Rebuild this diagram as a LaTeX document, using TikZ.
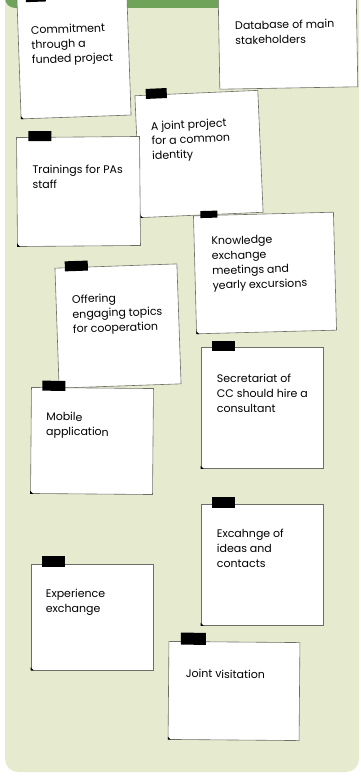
\documentclass[tikz,border=0pt]{standalone}
\usepackage{fontspec}
\setmainfont{Poppins}
\usetikzlibrary{positioning, calc}

\definecolor{panelbg}{HTML}{E6EBCF}
\definecolor{headgreen}{HTML}{6FA35A}
\definecolor{noteedge}{HTML}{6E6E66}

\begin{document}
\begin{tikzpicture}[
    x=1pt, y=-1pt,
    note/.style={rectangle, draw=noteedge, line width=0.6pt, fill=white, inner sep=0pt},
    tape/.style={rectangle, fill=black, minimum width=23pt, minimum height=10pt, inner sep=0pt, anchor=west},
    notetext/.style={align=left, inner sep=0pt, anchor=north west, font=\fontsize{11}{14.8}\selectfont}
]
\useasboundingbox (0,0) rectangle (360,776);
\fill[white] (0,0) rectangle (360,776);
\fill[panelbg, rounded corners=13pt] (5,-30) rectangle (359,772);
\fill[headgreen, rounded corners=10pt] (5,-30) rectangle (352,8);

% row 1
\node[note, minimum width=110pt, minimum height=120pt, rotate=2](n1) at (74, 57) {};
\node[tape, minimum width=20pt, rotate=2](k1) at ([xshift=9pt, yshift=1.5pt]n1.north west) {};
\node[notetext, rotate=2](t1) at ([xshift=14pt, yshift=-27pt]n1.north west) {Commitment\\through a\\funded project};
\fill (n1.south west) -- ([xshift=3pt]n1.south west) -- ([yshift=3pt]n1.south west) -- cycle;

\node[note, minimum width=138pt, minimum height=94pt, rotate=1](n2) at (288, 41) {};
\node[tape, minimum width=17pt, rotate=1](k2) at ([xshift=5pt, yshift=1.5pt]n2.north west) {};
\node[notetext, rotate=1](t2) at ([xshift=17pt, yshift=-26pt]n2.north west) {Database of main\\stakeholders};

% row 2
\node[note, minimum width=123pt, minimum height=122pt, rotate=2.5](n3) at (199, 154) {};
\node[tape, minimum width=21pt, rotate=2.5](k3) at ([xshift=11pt, yshift=1.5pt]n3.north west) {};
\node[notetext, rotate=2.5](t3) at ([xshift=16pt, yshift=-26pt]n3.north west) {A joint project\\for a common\\identity};
\fill (n3.south west) -- ([xshift=3pt]n3.south west) -- ([yshift=3pt]n3.south west) -- cycle;

\node[note, minimum width=123pt, minimum height=109pt, rotate=0.5](n4) at (78.5, 191.5) {};
\node[tape, rotate=0.5](k4) at ([xshift=12pt, yshift=1pt]n4.north west) {};
\node[notetext, rotate=0.5](t4) at ([xshift=16pt, yshift=-28pt]n4.north west) {Trainings for PAs\\staff};
\fill (n4.south west) -- ([xshift=3pt]n4.south west) -- ([yshift=3pt]n4.south west) -- cycle;

% row 3
\node[note, minimum width=140pt, minimum height=118pt, rotate=1.5](n5) at (265, 273) {};
\node[tape, minimum width=17pt, minimum height=7pt, rotate=1.5](k5) at ([xshift=7pt, yshift=1pt]n5.north west) {};
\node[notetext, rotate=1.5](t5) at ([xshift=18pt, yshift=-21pt]n5.north west) {Knowledge\\exchange\\meetings and\\yearly excursions};
\fill (n5.south west) -- ([xshift=3pt]n5.south west) -- ([yshift=3pt]n5.south west) -- cycle;

\node[note, minimum width=122pt, minimum height=120pt, rotate=2](n6) at (118, 326) {};
\node[tape, rotate=2](k6) at ([xshift=10pt, yshift=1.5pt]n6.north west) {};
\node[notetext, rotate=2](t6) at ([xshift=17pt, yshift=-27pt]n6.north west) {Offering\\engaging topics\\for cooperation};

% row 4
\node[note, minimum width=122pt, minimum height=121pt](n7) at (262, 408) {};
\node[tape](k7) at ([xshift=11pt, yshift=1pt]n7.north west) {};
\node[notetext](t7) at ([xshift=16pt, yshift=-27pt]n7.north west) {Secretariat of\\CC should hire a\\consultant};
\fill (n7.south west) -- ([xshift=3pt]n7.south west) -- ([yshift=3pt]n7.south west) -- cycle;

\node[note, minimum width=122pt, minimum height=106pt, rotate=-0.5](n8) at (92, 441) {};
\node[tape, rotate=-0.5](k8) at ([xshift=11pt, yshift=1.5pt]n8.north west) {};
\node[notetext, rotate=-0.5](t8) at ([xshift=15pt, yshift=-25pt]n8.north west) {Mobile\\application};
\fill (n8.south west) -- ([xshift=3pt]n8.south west) -- ([yshift=3pt]n8.south west) -- cycle;

% row 5
\node[note, minimum width=122pt, minimum height=121pt](n9) at (262, 565) {};
\node[tape, minimum height=11pt](k9) at ([xshift=11pt, yshift=2pt]n9.north west) {};
\node[notetext](t9) at ([xshift=16pt, yshift=-25pt]n9.north west) {Excahnge of\\ideas and\\contacts};
\fill (n9.south west) -- ([xshift=3pt]n9.south west) -- ([yshift=3pt]n9.south west) -- cycle;

\node[note, minimum width=122pt, minimum height=106pt](n10) at (92, 617) {};
\node[tape, minimum height=11pt](k10) at ([xshift=11pt, yshift=2pt]n10.north west) {};
\node[notetext](t10) at ([xshift=15pt, yshift=-25pt]n10.north west) {Experience\\exchange};
\fill (n10.south west) -- ([xshift=3pt]n10.south west) -- ([yshift=3pt]n10.south west) -- cycle;

% row 6
\node[note, minimum width=131pt, minimum height=98pt, rotate=-0.5](n11) at (234, 691) {};
\node[tape, minimum width=25pt, minimum height=12pt, rotate=-0.5](k11) at ([xshift=12pt, yshift=2.5pt]n11.north west) {};
\node[notetext, rotate=-0.5](t11) at ([xshift=17pt, yshift=-28pt]n11.north west) {Joint visitation};
\fill (n11.south west) -- ([xshift=3pt]n11.south west) -- ([yshift=3pt]n11.south west) -- cycle;
\end{tikzpicture}
\end{document}
